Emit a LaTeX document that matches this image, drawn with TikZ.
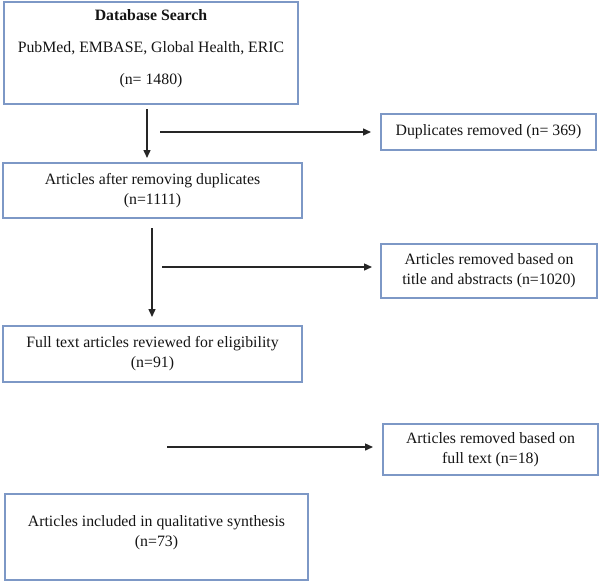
\documentclass[tikz,border=0pt]{standalone}
\usepackage{fontspec}
\setmainfont{Liberation Serif}
\usetikzlibrary{arrows.meta,calc}
\definecolor{boxline}{RGB}{125,152,198}
\definecolor{txt}{RGB}{20,20,20}
\begin{document}
\begin{tikzpicture}[x=1pt,y=-1pt,
  box/.style={draw=boxline,line width=1.3pt,rectangle,inner sep=0pt,outer sep=0pt,
    align=center,text=txt,font=\fontsize{15.8}{20}\selectfont},
  arr/.style={draw=black!85,line width=1.4pt,-{Triangle[length=8pt,width=7pt]}}]
\useasboundingbox (0,0) rectangle (601,581);
% boxes
\node[box,minimum width=294pt,minimum height=102pt,text depth=12.4pt] (b1) at (151,53)
  {\textbf{Database Search}\\[12pt]PubMed, EMBASE, Global Health, ERIC\\[12pt](n= 1480)};
\node[box,minimum width=215pt,minimum height=36pt] (dup) at (488.5,132)
  {Duplicates removed (n= 369)};
\node[box,minimum width=299pt,minimum height=55pt] (b2) at (152.5,190.5)
  {Articles after removing duplicates\\(n=1111)};
\node[box,minimum width=216pt,minimum height=54pt] (rm1) at (489,271)
  {Articles removed based on\\title and abstracts (n=1020)};
\node[box,minimum width=299pt,minimum height=56pt] (b3) at (152.5,354)
  {Full text articles reviewed for eligibility\\(n=91)};
\node[box,minimum width=215pt,minimum height=51pt] (rm2) at (490.5,449.5)
  {Articles removed based on\\full text (n=18)};
\node[box,minimum width=303pt,minimum height=86pt,text depth=12.4pt] (b4) at (156.5,537)
  {Articles included in qualitative synthesis\\(n=73)};
% arrow start points
\coordinate (v1) at (147,109);
\coordinate (h1) at (160,132);
\coordinate (v2) at (152,228);
\coordinate (h2) at (162,267);
\coordinate (h3) at (167,447);
% arrows
\draw[arr,shorten >=5pt] (v1) -- (v1 |- b2.north);
\draw[arr,shorten >=10pt] (h1) -- (h1 -| dup.west);
\draw[arr,shorten >=9pt] (v2) -- (v2 |- b3.north);
\draw[arr,shorten >=9pt] (h2) -- (h2 -| rm1.west);
\draw[arr,shorten >=10pt] (h3) -- (h3 -| rm2.west);
\end{tikzpicture}
\end{document}
